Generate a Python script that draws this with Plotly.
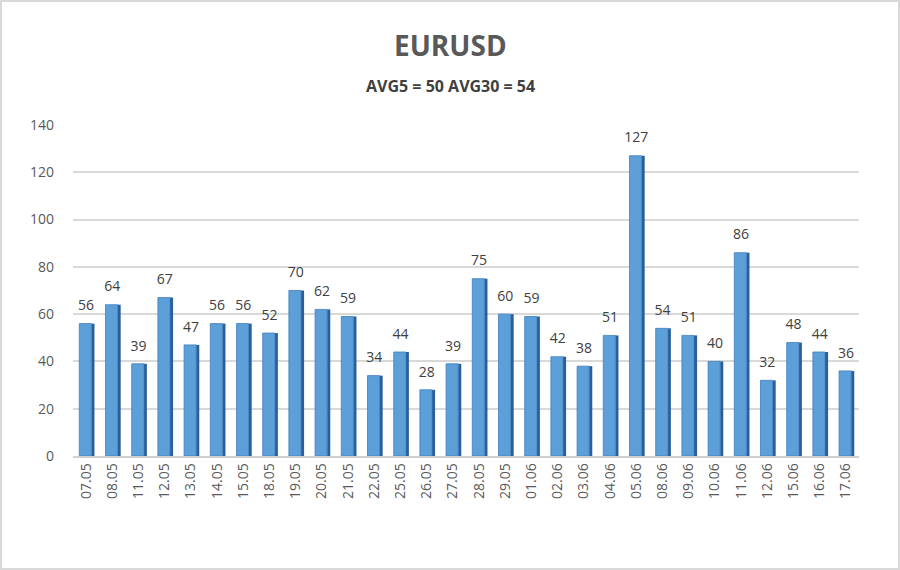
import plotly.graph_objects as go

dates = ["07.05","08.05","11.05","12.05","13.05","14.05","15.05","18.05","19.05","20.05",
         "21.05","22.05","25.05","26.05","27.05","28.05","29.05","01.06","02.06","03.06",
         "04.06","05.06","08.06","09.06","10.06","11.06","12.06","15.06","16.06","17.06"]
values = [56,64,39,67,47,56,56,52,70,62,59,34,44,28,39,75,60,59,42,38,51,127,54,51,40,86,32,48,44,36]
y_ticks = [0,20,40,60,80,100,120,140]
title = "EURUSD"
subtitle = "AVG5 = 50 AVG30 = 54"

W, H = 900, 570
ml, mr, mt, mb = 73, 41, 125, 114
pw, ph = W - ml - mr, H - mt - mb

def py(pix):  # pixel row -> paper y
    return 1 + (mt - pix) / ph

fig = go.Figure()
# side face (3D look)
fig.add_trace(go.Bar(x=dates, y=values, width=0.12, offset=0.2,
                     marker=dict(color="#2a6099", line=dict(width=0)),
                     hoverinfo="skip", showlegend=False))
# front face
fig.add_trace(go.Bar(x=dates, y=values, width=0.46, offset=-0.26,
                     marker=dict(color="#5d9fd9", line=dict(color="#3f7fbf", width=0.8)),
                     showlegend=False))
# value labels (invisible markers push the text a little above the bar tops)
fig.add_trace(go.Scatter(x=dates, y=values, mode="markers+text",
                         marker=dict(size=14, opacity=0),
                         text=[str(v) for v in values], textposition="top center",
                         textfont=dict(size=14, color="#404040", family="Open Sans"),
                         cliponaxis=False, showlegend=False, hoverinfo="skip"))

fig.update_layout(
    width=W, height=H, barmode="overlay",
    margin=dict(l=ml, r=mr, t=mt, b=mb),
    paper_bgcolor="white", plot_bgcolor="white",
    font=dict(family="Open Sans", color="#595959"),
    annotations=[
        dict(text="<b>" + title + "</b>", xref="paper", yref="paper", x=(450 - ml) / pw, y=py(45),
             xanchor="center", yanchor="middle", showarrow=False,
             font=dict(size=28, color="#595959", family="Open Sans")),
        dict(text="<b>" + subtitle + "</b>", xref="paper", yref="paper", x=(450 - ml) / pw, y=py(86),
             xanchor="center", yanchor="middle", showarrow=False,
             font=dict(size=16, color="#404040", family="Open Sans")),
    ],
    xaxis=dict(range=[-0.5, len(dates) - 0.5], tickangle=-90,
               tickfont=dict(size=14, color="#595959"), showgrid=False,
               showline=True, linecolor="#d0d0d0", linewidth=1.5, ticks=""),
    yaxis=dict(range=[0, 140], tickvals=y_ticks, tickfont=dict(size=14, color="#595959"),
               showgrid=True, gridcolor="#d9d9d9", gridwidth=1.5, zeroline=False,
               showline=False, ticks="", ticklabelstandoff=18),
    shapes=[dict(type="rect", xref="paper", yref="paper",
                 x0=(-ml + 1) / pw, x1=(pw + mr - 1) / pw,
                 y0=(-mb + 1) / ph, y1=(ph + mt - 1) / ph,
                 line=dict(color="#d9d9d9", width=2))],
)

fig.write_html("out.html")
